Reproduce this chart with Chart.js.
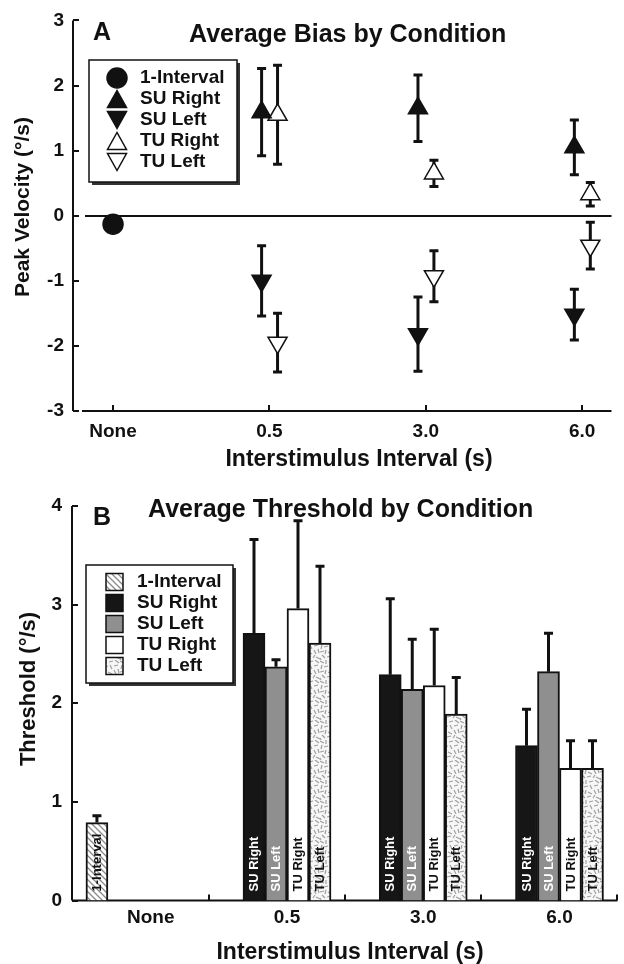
<!DOCTYPE html>
<html>
<head>
<meta charset="utf-8">
<script src="https://cdn.jsdelivr.net/npm/chart.js@4"></script>
<style>
  body { margin: 0; background: #fff; }
  canvas { display: block; }
</style>
</head>
<body>
<canvas id="biasChart" width="624" height="480"></canvas>
<canvas id="thresholdChart" width="624" height="484"></canvas>
<script>
// categories (interstimulus interval)
const intervals = ["None", "0.5", "3.0", "6.0"];

// Panel A: average bias (peak velocity, deg/s); SU/TU values are for 0.5, 3.0, 6.0
const biasOneInterval = [-0.13];
const biasSuRight = [1.59, 1.65, 1.05];
const biasSuRightErr = [0.67, 0.51, 0.42];
const biasSuLeft = [-1.0, -1.82, -1.52];
const biasSuLeftErr = [0.54, 0.57, 0.39];
const biasTuRight = [1.55, 0.65, 0.33];
const biasTuRightErr = [0.76, 0.20, 0.18];
const biasTuLeft = [-1.95, -0.93, -0.46];
const biasTuLeftErr = [0.45, 0.39, 0.36];

// Panel B: average threshold (deg/s)
const thresholdOneInterval = [0.79];
const thresholdOneIntervalErr = [0.07];
const thresholdSuRight = [2.71, 2.29, 1.57];
const thresholdSuRightErr = [0.95, 0.77, 0.37];
const thresholdSuLeft = [2.37, 2.14, 2.32];
const thresholdSuLeftErr = [0.07, 0.51, 0.39];
const thresholdTuRight = [2.96, 2.18, 1.34];
const thresholdTuRightErr = [0.89, 0.57, 0.28];
const thresholdTuLeft = [2.61, 1.89, 1.34];
const thresholdTuLeftErr = [0.78, 0.37, 0.28];

const biasTicks = [-3, -2, -1, 0, 1, 2, 3];
const thresholdTicks = [0, 1, 2, 3, 4];

const FONT = "'Liberation Sans', Arial, Helvetica, sans-serif";
const INK = "#111";
const font = (size) => `bold ${size}px ${FONT}`;

// fill patterns
function makeHatch() {
  const c = document.createElement("canvas");
  c.width = c.height = 6;
  const g = c.getContext("2d");
  g.fillStyle = "#fff";
  g.fillRect(0, 0, 6, 6);
  g.strokeStyle = "#8a8a8a";
  g.lineWidth = 1.3;
  g.beginPath();
  g.moveTo(-1, -1); g.lineTo(7, 7);
  g.moveTo(-1, 5); g.lineTo(1, 7);
  g.moveTo(5, -1); g.lineTo(7, 1);
  g.stroke();
  return g.createPattern(c, "repeat");
}

function makeSpeckle() {
  const c = document.createElement("canvas");
  c.width = c.height = 20;
  const g = c.getContext("2d");
  g.fillStyle = "#f7f7f7";
  g.fillRect(0, 0, 20, 20);
  g.strokeStyle = "#a0a0a0";
  g.lineWidth = 1.2;
  const strokes = [
    [0, 1, 4, 3], [6, 0, 6, 4], [9, 2, 13, 1], [15, 0, 19, 3],
    [2, 5, 1, 9], [4, 7, 8, 6], [10, 5, 12, 9], [14, 6, 18, 5],
    [0, 12, 4, 11], [6, 10, 5, 14], [8, 12, 12, 14], [14, 10, 16, 14],
    [18, 9, 19, 13], [2, 15, 5, 18], [7, 17, 11, 16], [13, 18, 15, 15],
    [16, 17, 20, 19], [0, 18, 1, 20]
  ];
  g.beginPath();
  strokes.forEach(([a, b, c2, d]) => { g.moveTo(a, b); g.lineTo(c2, d); });
  g.stroke();
  return g.createPattern(c, "repeat");
}

const hatch = makeHatch();
const speckle = makeSpeckle();

function drawErrorBars(chart, twoSided) {
  const { ctx, scales: { y } } = chart;
  ctx.save();
  ctx.strokeStyle = INK;
  ctx.lineWidth = 3;
  chart.data.datasets.forEach((ds, d) => {
    if (!ds.errors) return;
    const meta = chart.getDatasetMeta(d);
    ds.data.forEach((pt, i) => {
      const err = ds.errors[i];
      if (pt.y === null || !err) return;
      const px = meta.data[i].x;
      const top = y.getPixelForValue(pt.y + err);
      const bot = y.getPixelForValue(twoSided ? pt.y - err : pt.y);
      ctx.beginPath();
      ctx.moveTo(px, top); ctx.lineTo(px, bot);
      ctx.moveTo(px - 4.5, top); ctx.lineTo(px + 4.5, top);
      if (twoSided) { ctx.moveTo(px - 4.5, bot); ctx.lineTo(px + 4.5, bot); }
      ctx.stroke();
    });
  });
  ctx.restore();
}

function drawMarker(ctx, ds, cx, cy) {
  ctx.fillStyle = ds.pointBackgroundColor;
  ctx.strokeStyle = ds.pointBorderColor;
  ctx.lineWidth = 1.5;
  ctx.beginPath();
  if (ds.pointStyle === "circle") {
    ctx.arc(cx, cy, 10, 0, Math.PI * 2);
  } else {
    const w = 19, h = 17;
    const dir = ds.pointRotation === 180 ? 1 : -1;
    ctx.moveTo(cx, cy + dir * h / 2);
    ctx.lineTo(cx - w / 2, cy - dir * h / 2);
    ctx.lineTo(cx + w / 2, cy - dir * h / 2);
    ctx.closePath();
  }
  ctx.fill();
  ctx.stroke();
}

function drawLegend(chart, lg) {
  const ctx = chart.ctx;
  ctx.save();
  ctx.fillStyle = "#333";
  ctx.fillRect(lg.x + 3, lg.y + 3, lg.w, lg.h);
  ctx.fillStyle = "#fff";
  ctx.fillRect(lg.x, lg.y, lg.w, lg.h);
  ctx.strokeStyle = INK;
  ctx.lineWidth = 1.5;
  ctx.strokeRect(lg.x, lg.y, lg.w, lg.h);
  chart.data.datasets.forEach((ds, d) => {
    const cy = lg.rowY + d * lg.rowStep;
    if (lg.swatch) {
      ctx.fillStyle = ds.backgroundColor;
      ctx.fillRect(lg.symbolX - 8.5, cy - 8.5, 17, 17);
      ctx.strokeStyle = INK;
      ctx.lineWidth = 1.5;
      ctx.strokeRect(lg.symbolX - 8.5, cy - 8.5, 17, 17);
    } else {
      drawMarker(ctx, ds, lg.symbolX, cy);
    }
    ctx.fillStyle = INK;
    ctx.font = font(19);
    ctx.textAlign = "left";
    ctx.textBaseline = "middle";
    ctx.fillText(ds.label, lg.textX, cy);
  });
  ctx.restore();
}

const panelDecor = {
  id: "panelDecor",
  beforeDatasetsDraw(chart, args, o) {
    const { ctx, chartArea: a, scales: { x, y } } = chart;
    ctx.save();
    ctx.strokeStyle = INK;
    ctx.lineWidth = 2;
    ctx.beginPath();
    // y axis with inward ticks
    ctx.moveTo(a.left, a.top);
    ctx.lineTo(a.left, a.bottom);
    y.ticks.forEach(t => {
      const py = Math.round(y.getPixelForValue(t.value));
      ctx.moveTo(a.left, py);
      ctx.lineTo(a.left + 6, py);
    });
    // x axis with inward ticks
    ctx.moveTo(a.left + o.xAxisGap, a.bottom);
    ctx.lineTo(a.right, a.bottom);
    o.xTickMarks.forEach(v => {
      const px = Math.round(x.getPixelForValue(v));
      ctx.moveTo(px, a.bottom);
      ctx.lineTo(px, a.bottom - 6);
    });
    if (o.zeroLine) {
      const py = Math.round(y.getPixelForValue(0));
      ctx.moveTo(a.left + 12, py);
      ctx.lineTo(a.right, py);
    }
    ctx.stroke();
    ctx.restore();
    if (o.errorsBelow) drawErrorBars(chart, true);
  },
  afterDatasetsDraw(chart, args, o) {
    const { ctx, scales: { y } } = chart;
    if (!o.errorsBelow) drawErrorBars(chart, false);

    // labels written inside the bars
    if (o.barLabels) {
      ctx.save();
      ctx.font = font(13);
      ctx.textAlign = "left";
      ctx.textBaseline = "middle";
      const base = y.getPixelForValue(0) - 9;
      chart.data.datasets.forEach((ds, d) => {
        const meta = chart.getDatasetMeta(d);
        ds.data.forEach((pt, i) => {
          if (pt.y === null) return;
          ctx.save();
          ctx.translate(meta.data[i].x + 0.5, base);
          ctx.rotate(-Math.PI / 2);
          ctx.fillStyle = ds.labelColor;
          ctx.fillText(ds.label, 0, 0);
          ctx.restore();
        });
      });
      ctx.restore();
    }

    drawLegend(chart, o.legend);

    ctx.save();
    ctx.fillStyle = INK;
    ctx.textBaseline = "alphabetic";
    ctx.textAlign = "left";
    ctx.font = font(25);
    ctx.fillText(o.letter, o.letterX, o.letterY);
    ctx.fillText(o.title, o.titleX, o.titleY);
    ctx.font = font(23);
    ctx.textAlign = "center";
    ctx.fillText(o.xTitle, o.xTitleX, o.xTitleY);
    ctx.translate(o.yTitleX, o.yTitleY);
    ctx.rotate(-Math.PI / 2);
    ctx.font = font(o.yTitleSize);
    ctx.fillText(o.yTitle, 0, 0);
    ctx.restore();
  }
};

const tickFont = { family: FONT, size: 19, weight: "bold" };

// ---------- Panel A ----------
const suShift = -0.05, tuShift = 0.052;
const atIntervals = (values, shift) => values.map((v, i) => ({ x: i + 1 + shift, y: v }));

function markerSet(label, data, errors, style, rotation, fill) {
  return {
    label, data, errors,
    pointStyle: style,
    pointRotation: rotation,
    pointRadius: style === "circle" ? 10 : 11,
    pointHoverRadius: style === "circle" ? 10 : 11,
    pointBackgroundColor: fill,
    pointBorderColor: INK,
    pointBorderWidth: 1.5,
    showLine: false
  };
}

new Chart(document.getElementById("biasChart"), {
  type: "scatter",
  data: {
    datasets: [
      markerSet("1-Interval", biasOneInterval.map((v, i) => ({ x: i, y: v })), [0], "circle", 0, INK),
      markerSet("SU Right", atIntervals(biasSuRight, suShift), biasSuRightErr, "triangle", 0, INK),
      markerSet("SU Left", atIntervals(biasSuLeft, suShift), biasSuLeftErr, "triangle", 180, INK),
      markerSet("TU Right", atIntervals(biasTuRight, tuShift), biasTuRightErr, "triangle", 0, "#fff"),
      markerSet("TU Left", atIntervals(biasTuLeft, tuShift), biasTuLeftErr, "triangle", 180, "#fff")
    ]
  },
  options: {
    responsive: false,
    animation: false,
    devicePixelRatio: 1,
    layout: { padding: { top: 17, right: 0, bottom: 0, left: 0 } },
    plugins: {
      legend: { display: false },
      tooltip: { enabled: false },
      panelDecor: {
        errorsBelow: true,
        zeroLine: true,
        xAxisGap: 9,
        xTickMarks: [0, 1, 2, 3],
        letter: "A", letterX: 93, letterY: 39.5,
        title: "Average Bias by Condition", titleX: 189, titleY: 42,
        xTitle: "Interstimulus Interval (s)", xTitleX: 359, xTitleY: 466,
        yTitle: "Peak Velocity (\u00b0/s)", yTitleX: 29, yTitleY: 207, yTitleSize: 21,
        legend: { x: 89, y: 60, w: 148, h: 122, rowY: 78, rowStep: 21, symbolX: 117, textX: 140 }
      }
    },
    scales: {
      x: {
        type: "linear",
        min: -0.256, max: 3.1875,
        afterBuildTicks: s => { s.ticks = intervals.map((_, i) => ({ value: i })); },
        afterFit: s => { s.height = 69; },
        ticks: { font: tickFont, color: INK, padding: 9, callback: v => intervals[v] },
        grid: { display: false, drawTicks: false },
        border: { display: false }
      },
      y: {
        min: -3, max: 3,
        afterBuildTicks: s => { s.ticks = biasTicks.map(v => ({ value: v })); },
        afterFit: s => { s.width = 73; },
        ticks: { font: tickFont, color: INK, padding: 9 },
        grid: { display: false, drawTicks: false },
        border: { display: false }
      }
    }
  },
  plugins: [panelDecor]
});

// ---------- Panel B ----------
const oneIntervalX = -0.395;
const barX = [oneIntervalX, 1, 2, 3];
const padded = (first, rest) => barX.map((x, i) => ({ x, y: i === 0 ? first : rest[i - 1] }));

function barSet(label, data, errors, fill, labelColor) {
  return {
    label, data, errors, labelColor,
    backgroundColor: fill,
    borderColor: INK,
    borderWidth: 2,
    barThickness: 22,
    skipNull: true
  };
}

new Chart(document.getElementById("thresholdChart"), {
  type: "bar",
  data: {
    datasets: [
      barSet("1-Interval", padded(thresholdOneInterval[0], [null, null, null]),
        [thresholdOneIntervalErr[0], 0, 0, 0], hatch, INK),
      barSet("SU Right", padded(null, thresholdSuRight), [0, ...thresholdSuRightErr], "#161616", "#fff"),
      barSet("SU Left", padded(null, thresholdSuLeft), [0, ...thresholdSuLeftErr], "#8f8f8f", "#fff"),
      barSet("TU Right", padded(null, thresholdTuRight), [0, ...thresholdTuRightErr], "#fff", INK),
      barSet("TU Left", padded(null, thresholdTuLeft), [0, ...thresholdTuLeftErr], speckle, INK)
    ]
  },
  options: {
    responsive: false,
    animation: false,
    devicePixelRatio: 1,
    layout: { padding: { top: 26, right: 6.6, bottom: 0, left: 0 } },
    plugins: {
      legend: { display: false },
      tooltip: { enabled: false },
      panelDecor: {
        errorsBelow: false,
        zeroLine: false,
        xAxisGap: 0,
        xTickMarks: intervals.map((_, i) => i + 0.425),
        barLabels: true,
        letter: "B", letterX: 93, letterY: 45,
        title: "Average Threshold by Condition", titleX: 148, titleY: 37,
        xTitle: "Interstimulus Interval (s)", xTitleX: 350, xTitleY: 479,
        yTitle: "Threshold (\u00b0/s)", yTitleX: 35, yTitleY: 209, yTitleSize: 22,
        legend: { x: 86, y: 85, w: 147, h: 118, rowY: 102, rowStep: 21, symbolX: 114.5, textX: 137, swatch: true }
      }
    },
    scales: {
      x: {
        type: "linear",
        offset: false,
        min: -0.578, max: 3.425,
        afterBuildTicks: s => { s.ticks = intervals.map((_, i) => ({ value: i })); },
        afterFit: s => { s.height = 63.5; },
        ticks: { font: tickFont, color: INK, padding: 6, callback: v => intervals[v] },
        grid: { display: false, drawTicks: false },
        border: { display: false }
      },
      y: {
        min: 0, max: 4,
        afterBuildTicks: s => { s.ticks = thresholdTicks.map(v => ({ value: v })); },
        afterFit: s => { s.width = 72; },
        ticks: { font: tickFont, color: INK, padding: 10 },
        grid: { display: false, drawTicks: false },
        border: { display: false }
      }
    }
  },
  plugins: [panelDecor]
});
</script>
</body>
</html>
